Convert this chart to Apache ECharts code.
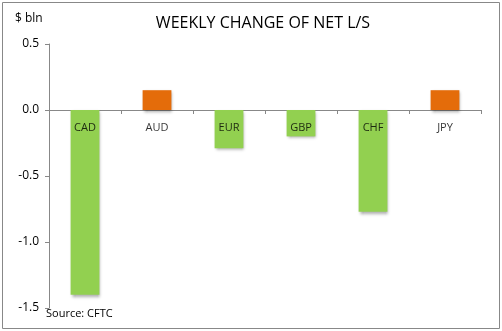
<!DOCTYPE html>
<html>
<head>
<meta charset="utf-8">
<style>
  html, body { margin: 0; padding: 0; background: #fff; }
  #chart { width: 502px; height: 331px; }
</style>
<script src="https://cdn.jsdelivr.net/npm/echarts@6/dist/echarts.min.js"></script>
</head>
<body>
<div id="chart"></div>
<script>
// Weekly change of net long/short positioning by currency, $ bln
const currencies = ['CAD', 'AUD', 'EUR', 'GBP', 'CHF', 'JPY'];
const netChange = [-1.40, 0.15, -0.29, -0.20, -0.77, 0.15];
const yTicks = [-1.5, -1.0, -0.5, 0.0, 0.5];

const GREEN = '#92D050';
const ORANGE = '#E46C0A';
const FONT = '"Open Sans", "Noto Sans", sans-serif';

const chart = echarts.init(document.getElementById('chart'), null, { renderer: 'canvas' });

chart.setOption({
  backgroundColor: '#ffffff',
  animation: false,
  textStyle: { fontFamily: FONT },
  title: [
    {
      text: 'WEEKLY CHANGE OF NET L/S',
      left: 258, top: 10, textAlign: 'center',
      textStyle: { fontFamily: FONT, fontSize: 16, fontWeight: 'normal', color: '#000' }
    },
    {
      text: '$ bln',
      left: 10, top: 8,
      textStyle: { fontFamily: FONT, fontSize: 12, fontWeight: 'normal', color: '#000' }
    }
  ],
  graphic: [
    {
      type: 'rect', silent: true, z: -1,
      shape: { x: 2.5, y: 2.5, width: 497, height: 326 },
      style: { fill: 'none', stroke: '#888', lineWidth: 1 }
    },
    {
      type: 'text', left: 46, top: 308,
      style: { text: 'Source: CFTC', font: '11px ' + FONT, fill: '#000' }
    }
  ],
  grid: { left: 49, right: 21, top: 44, bottom: 23, containLabel: false },
  xAxis: {
    type: 'category',
    data: currencies,
    axisLine: { onZero: true, lineStyle: { color: '#888', width: 1 } },
    axisTick: { show: true, inside: false, length: 4, alignWithLabel: false, lineStyle: { color: '#888' } },
    // category names are drawn just under the zero line by the label series below
    axisLabel: { show: false },
    splitLine: { show: false }
  },
  yAxis: {
    type: 'value',
    min: yTicks[0], max: yTicks[yTicks.length - 1], interval: 0.5,
    axisLine: { show: true, lineStyle: { color: '#888', width: 1 } },
    axisTick: { show: true, length: 4, lineStyle: { color: '#888' } },
    axisLabel: {
      color: '#000', fontSize: 12, margin: 10, fontFamily: FONT,
      formatter: v => v.toFixed(1)
    },
    splitLine: { show: false }
  },
  series: [
    {
      type: 'bar',
      data: netChange.map(v => ({
        value: v,
        itemStyle: { color: v < 0 ? GREEN : ORANGE }
      })),
      barWidth: '40%',
      itemStyle: {
        shadowColor: 'rgba(0,0,0,0.35)',
        shadowBlur: 3,
        shadowOffsetX: 1,
        shadowOffsetY: 2
      },
      z: 1
    },
    {
      // category names anchored at zero on each category
      type: 'scatter',
      data: currencies.map(c => [c, 0]),
      symbolSize: 1,
      itemStyle: { color: 'rgba(0,0,0,0)' },
      label: {
        show: true,
        position: 'bottom',
        distance: 12,
        formatter: p => p.data[0],
        color: '#000',
        fontSize: 11,
        fontFamily: FONT
      },
      silent: true,
      z: 3
    }
  ]
});
</script>
</body>
</html>
